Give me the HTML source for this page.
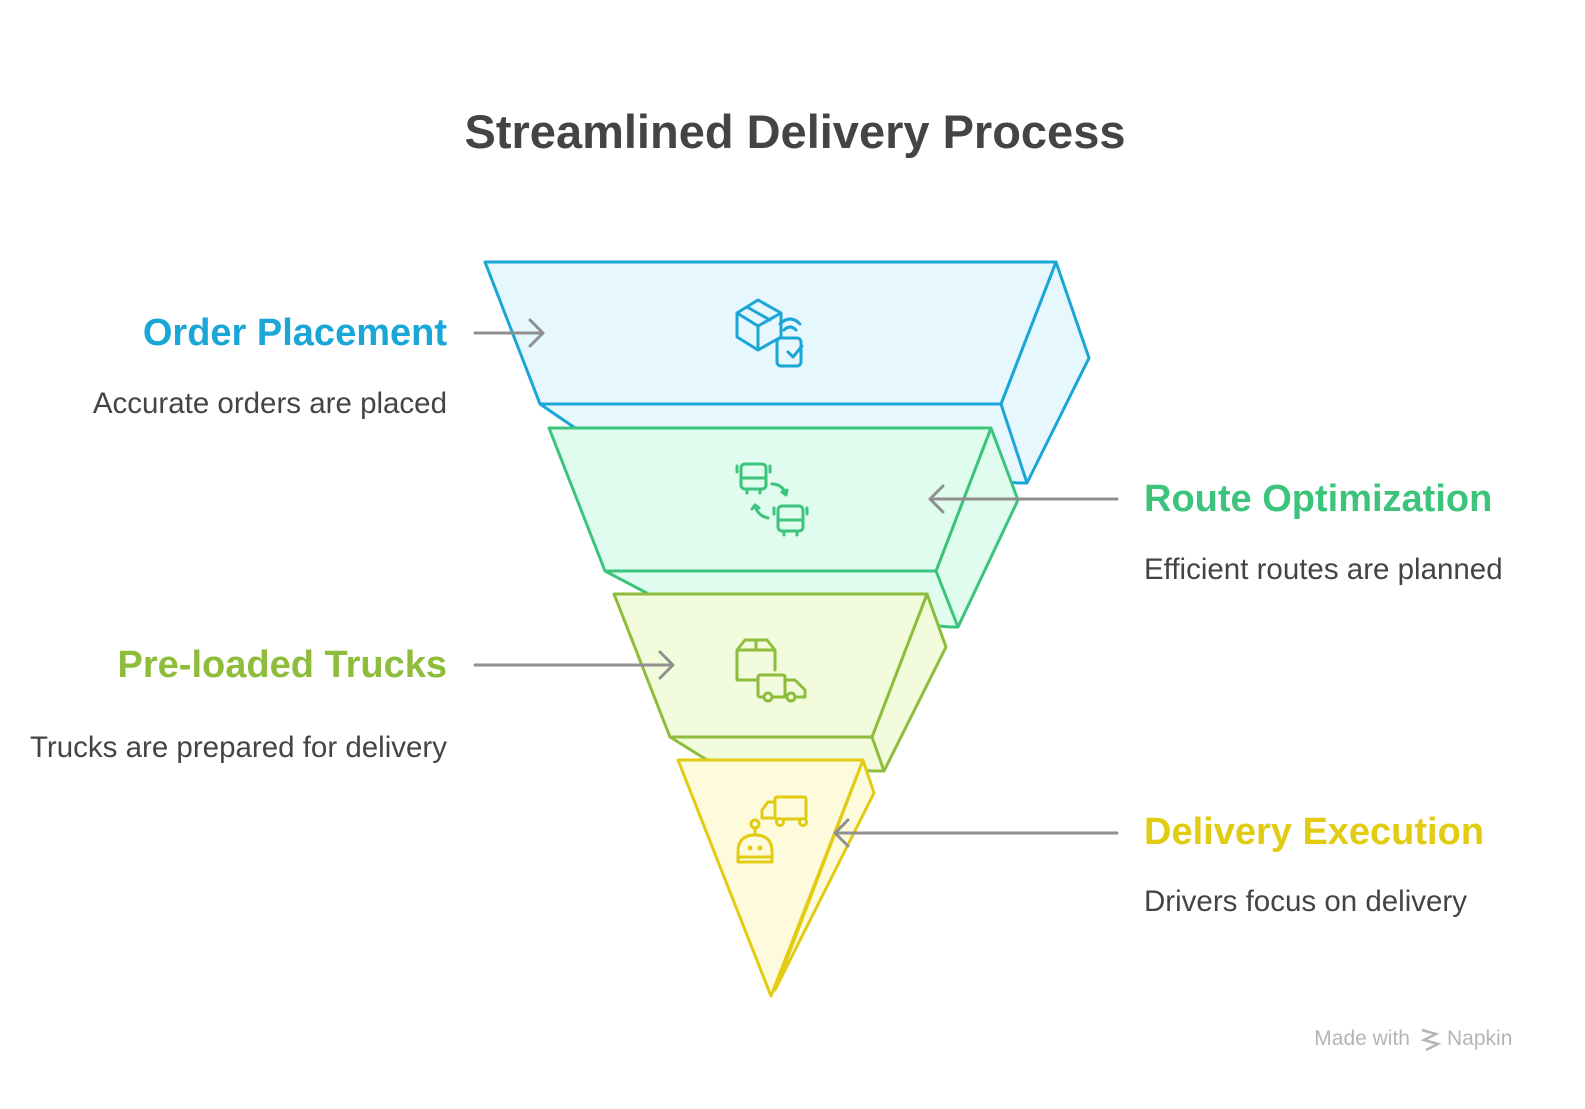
<!DOCTYPE html>
<html><head><meta charset="utf-8"><style>
body{margin:0;width:1585px;height:1104px;background:#fff;overflow:hidden;font-family:"Liberation Sans",sans-serif;}
</style></head><body>
<svg width="1585" height="1104" viewBox="0 0 1585 1104" xmlns="http://www.w3.org/2000/svg">
<text x="795" y="148" text-anchor="middle" font-family="Liberation Sans, sans-serif" font-weight="bold" font-size="47" fill="#444">Streamlined Delivery Process</text>

<g stroke-linejoin="round" stroke-width="3">
<polygon points="540,404 600,445 1018,483 1027,483 1089,358 1056,262 1001,404" fill="#e6f7fd" stroke="#1aa6d6"/>
<line x1="1001" y1="404" x2="1027" y2="483" stroke="#1aa6d6"/>
<polygon points="485,262 1056,262 1001,404 540,404" fill="#e6f7fd" stroke="#1aa6d6"/>
<polygon points="605,571 660,600 950,627 958,627 1018,500 991,428 936,571" fill="#e0fcee" stroke="#3cc47c"/>
<line x1="936" y1="571" x2="958" y2="627" stroke="#3cc47c"/>
<polygon points="549,428 991,428 936,571 605,571" fill="#e0fcee" stroke="#3cc47c"/>
<polygon points="670,737 715,765 875,771 884,771 946,647 927,594 872,737" fill="#f2fcdc" stroke="#8dbd3a"/>
<line x1="872" y1="737" x2="884" y2="771" stroke="#8dbd3a"/>
<polygon points="614,594 927,594 872,737 670,737" fill="#f2fcdc" stroke="#8dbd3a"/>
<polygon points="863,760 874,793 775,990" fill="#fefadc" stroke="#e2cc12"/>
<polygon points="678,760 863,760 771,996" fill="#fefadc" stroke="#e2cc12"/>
</g>

<g fill="none" stroke-width="3" stroke-linecap="round" stroke-linejoin="round">
<g stroke="#1aa6d6">
<path d="M737,313 L758,300 L781,313 L781,337 L758,350 L737,337 Z M737,313 L758,326 L781,313 M758,326 L758,350 M747,307 L770,320"/>
<rect x="777" y="338" width="24" height="28" rx="4"/>
<path d="M788,352 l5,5 l9,-11 M784,330 q6,-6 12,0 M780,324 q10,-10 20,0"/>
</g>
<g stroke="#3cc47c">
<rect x="741" y="464" width="25" height="25" rx="4"/><path d="M741,478 h25 M747,489 v4 M760,489 v4 M737,466 v6 M770,466 v6"/>
<rect x="778" y="506" width="25" height="25" rx="4"/><path d="M778,520 h25 M784,531 v4 M797,531 v4 M774,508 v6 M807,508 v6"/>
<path d="M772,484 q10,0 14,10 M782,492 l4,3 l1,-5 M768,518 q-10,-2 -13,-12 M752,509 l3,-4 l4,3"/>
</g>
<g stroke="#8dbd3a">
<path d="M737,680 v-30 l8,-10 h22 l8,10 v20 M737,650 h38 M756,640 v10 M737,680 h20"/>
<rect x="758" y="675" width="27" height="22" rx="2"/><path d="M785,680 h10 l10,10 v7 h-20"/>
<circle cx="768" cy="697" r="4" fill="#f2fcdc"/><circle cx="791" cy="697" r="4" fill="#f2fcdc"/>
</g>
<g stroke="#e2cc12">
<rect x="775" y="797" width="31" height="22" rx="2"/><path d="M775,802 h-7 l-6,8 v8 h13"/>
<circle cx="780" cy="822" r="3.5" fill="#fefadc"/><circle cx="803" cy="822" r="3.5" fill="#fefadc"/>
<circle cx="755" cy="824" r="4"/><path d="M755,828 v6 M738,862 v-10 q0,-17 17,-17 q17,0 17,17 v10 Z M738,857 h34"/>
<circle cx="750" cy="848" r="1" fill="#e2cc12"/><circle cx="760" cy="848" r="1" fill="#e2cc12"/>
</g>
</g>

<g stroke="#8f8f8f" stroke-width="3" fill="none" stroke-linecap="round" stroke-linejoin="round">
<path d="M475,333 H543 M530,320 L543,333 L530,346"/>
<path d="M1117,499 H930 M943,486 L930,499 L943,512"/>
<path d="M475,665 H673 M660,652 L673,665 L660,678"/>
<path d="M1117,833 H835 M848,820 L835,833 L848,846"/>
</g>

<g font-family="Liberation Sans, sans-serif">
<text x="447" y="345" text-anchor="end" font-weight="bold" font-size="38" fill="#1aa6d6">Order Placement</text>
<text x="447" y="413" text-anchor="end" font-size="29.5" fill="#444">Accurate orders are placed</text>
<text x="1144" y="511" font-weight="bold" font-size="38" fill="#3cc47c">Route Optimization</text>
<text x="1144" y="579" font-size="29.5" fill="#444">Efficient routes are planned</text>
<text x="447" y="677" text-anchor="end" font-weight="bold" font-size="38" fill="#8dbd3a">Pre-loaded Trucks</text>
<text x="447" y="757" text-anchor="end" font-size="29.5" fill="#444">Trucks are prepared for delivery</text>
<text x="1144" y="844" font-weight="bold" font-size="38" fill="#e2cc12">Delivery Execution</text>
<text x="1144" y="911" font-size="29.5" fill="#444">Drivers focus on delivery</text>
<text x="1410" y="1045" text-anchor="end" font-size="21" fill="#b5b5b5">Made with</text>
<path d="M1422,1030 l14,4 l-12,6 l14,4 l-12,6" stroke="#b5b5b5" stroke-width="2.5" fill="none"/>
<text x="1447" y="1045" font-size="21" fill="#b5b5b5">Napkin</text>
</g>
</svg>
</body></html>
